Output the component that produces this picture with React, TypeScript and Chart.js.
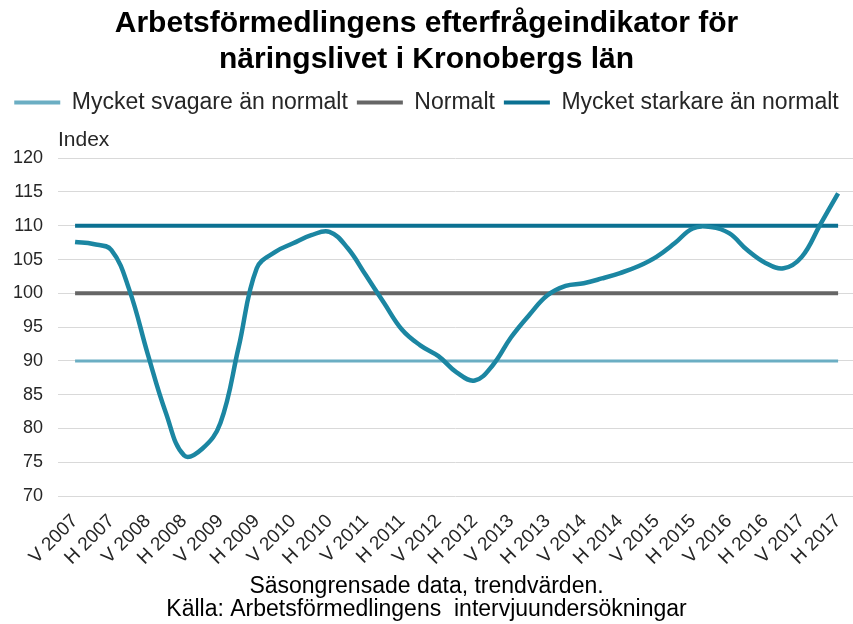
import React, { useEffect, useRef } from 'react';
import { Chart, registerables } from 'chart.js';

Chart.register(...registerables);

const FONT = "'Liberation Sans', Arial, sans-serif";

const titleLines = ['Arbetsförmedlingens efterfrågeindikator för', 'näringslivet i Kronobergs län'];
const footerLines = ['Säsongrensade data, trendvärden.', 'Källa: Arbetsförmedlingens  intervjuundersökningar'];
const axisTitle = 'Index';

const periodLabels = [
  'V 2007', 'H 2007', 'V 2008', 'H 2008', 'V 2009', 'H 2009', 'V 2010', 'H 2010',
  'V 2011', 'H 2011', 'V 2012', 'H 2012', 'V 2013', 'H 2013', 'V 2014', 'H 2014',
  'V 2015', 'H 2015', 'V 2016', 'H 2016', 'V 2017', 'H 2017',
];

// position along the half-year axis (0 = V 2007), quarterly readings
const indexPeriods = [
  0, 0.5, 1, 1.5, 2, 2.5, 3, 3.5, 4, 4.5, 5, 5.5, 6, 6.5, 7, 7.5, 8, 8.5, 9, 9.5, 10,
  10.5, 11, 11.5, 12, 12.5, 13, 13.5, 14, 14.5, 15, 15.5, 16, 16.5, 17, 17.5, 18, 18.5,
  19, 19.5, 20, 20.5, 21,
];
const indexValues = [
  107.6, 107.3, 106.4, 100.4, 91.0, 82.3, 76.0, 77.0, 80.8, 92.0, 103.7, 106.1, 107.4,
  108.6, 109.1, 106.7, 102.7, 98.6, 94.6, 92.3, 90.7, 88.3, 87.1, 89.4, 93.5, 96.8, 99.7,
  101.1, 101.5, 102.2, 103.0, 104.0, 105.4, 107.4, 109.6, 109.8, 108.9, 106.4, 104.5,
  103.7, 105.4, 110.1, 114.8,
];

const weakLevel = 90;
const normalLevel = 100;
const strongLevel = 110;

const seriesNames = ['Index', 'Mycket svagare än normalt', 'Normalt', 'Mycket starkare än normalt'];

const yMin = 70;
const yMax = 120;
const yStep = 5;

export default function App() {
  const canvasRef = useRef<HTMLCanvasElement>(null);

  useEffect(() => {
    document.body.style.margin = '0';
    const canvas = canvasRef.current;
    if (!canvas) return;

    const lastIdx = periodLabels.length - 1;
    const flat = (v: number) => [{ x: 0, y: v }, { x: lastIdx, y: v }];

    const footerPlugin = {
      id: 'footerText',
      afterDraw(chart: any) {
        const ctx = chart.ctx;
        ctx.save();
        ctx.font = `23px ${FONT}`;
        ctx.fillStyle = '#000000';
        ctx.textAlign = 'center';
        ctx.textBaseline = 'middle';
        footerLines.forEach((t, i) => {
          ctx.fillText(t, chart.width / 2, chart.height - 37 + i * 23);
        });
        ctx.restore();
      },
    };

    const chart = new Chart(canvas, {
      type: 'line',
      data: {
        datasets: [
          {
            label: seriesNames[0],
            data: indexPeriods.map((x, i) => ({ x, y: indexValues[i] })),
            borderColor: '#1B86A2',
            backgroundColor: '#1B86A2',
            borderWidth: 4.5,
            pointRadius: 0,
            tension: 0.4,
          },
          {
            label: seriesNames[1],
            data: flat(weakLevel),
            borderColor: '#6BAEC3',
            backgroundColor: '#6BAEC3',
            borderWidth: 3,
            pointRadius: 0,
          },
          {
            label: seriesNames[2],
            data: flat(normalLevel),
            borderColor: '#666666',
            backgroundColor: '#666666',
            borderWidth: 4,
            pointRadius: 0,
          },
          {
            label: seriesNames[3],
            data: flat(strongLevel),
            borderColor: '#0B7192',
            backgroundColor: '#0B7192',
            borderWidth: 4,
            pointRadius: 0,
          },
        ],
      },
      options: {
        responsive: false,
        animation: false,
        layout: { padding: { left: 0, right: 0, top: 0, bottom: 52 } },
        plugins: {
          title: {
            display: true,
            text: titleLines,
            color: '#000000',
            font: { family: FONT, size: 30, weight: 'bold', lineHeight: 1.2 },
            padding: { top: 6, bottom: 4 },
          },
          legend: {
            display: true,
            position: 'top',
            weight: 1800,
            labels: {
              color: '#262626',
              font: { family: FONT, size: 23 },
              boxWidth: 46,
              boxHeight: 4,
              padding: 9,
              generateLabels: (c: any) =>
                Chart.defaults.plugins.legend.labels
                  .generateLabels(c)
                  .filter((l: any) => l.datasetIndex !== 0)
                  .map((l: any) => ({ ...l, fillStyle: l.strokeStyle, lineWidth: 0 })),
            },
          },
          subtitle: {
            display: true,
            text: axisTitle,
            align: 'start',
            fullSize: false,
            color: '#262626',
            font: { family: FONT, size: 21, lineHeight: 1.2 },
            padding: { top: 4, bottom: 5 },
          },
          tooltip: { enabled: false },
        },
        scales: {
          x: {
            type: 'linear',
            min: -0.47,
            max: 21.41,
            grid: { display: false },
            border: { display: false },
            ticks: {
              autoSkip: false,
              maxRotation: 45,
              minRotation: 45,
              padding: 6,
              color: '#262626',
              font: { family: FONT, size: 19 },
              callback: (v: any) => (Number.isInteger(v) ? periodLabels[v] ?? '' : ''),
            },
            afterBuildTicks: (s: any) => {
              s.ticks = periodLabels.map((_, i) => ({ value: i }));
            },
            afterFit: (s: any) => {
              s.height = 76;
              s.paddingLeft = 0;
              s.paddingRight = 0;
            },
          },
          y: {
            min: yMin,
            max: yMax,
            grid: { color: '#D9D9D9', drawTicks: false, lineWidth: 1 },
            border: { display: false },
            ticks: {
              stepSize: yStep,
              padding: 15,
              color: '#262626',
              font: { family: FONT, size: 18 },
            },
            afterFit: (s: any) => {
              s.width = 58;
            },
          },
        },
      },
      plugins: [footerPlugin],
    } as any);

    return () => chart.destroy();
  }, []);

  return (
    <div style={{ width: 853, height: 624 }}>
      <canvas ref={canvasRef} width={853} height={624} style={{ display: 'block' }} />
    </div>
  );
}
